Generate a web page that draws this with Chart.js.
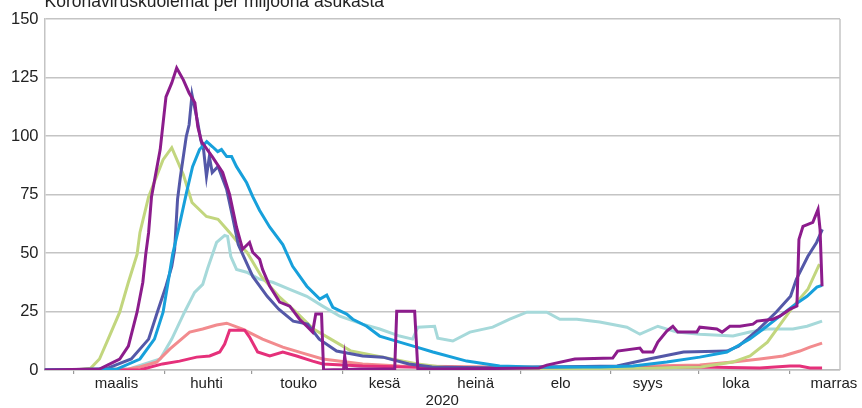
<!DOCTYPE html>
<html>
<head>
<meta charset="utf-8">
<script src="https://cdn.jsdelivr.net/npm/chart.js@4.4.1/dist/chart.umd.min.js"></script>
<style>
  html, body { margin: 0; padding: 0; background: #fff; }
  canvas { display: block; }
</style>
</head>
<body>
<canvas id="chart" width="862" height="408"></canvas>
<script>
// x values are day indexes (0 = about 20 Feb 2020), y values are deaths per million
const titleText = 'Koronaviruskuolemat per miljoona asukasta';
const yearText = '2020';
const monthLabels = ['maalis', 'huhti', 'touko', 'kesä', 'heinä', 'elo', 'syys', 'loka', 'marras'];
const monthLabelDays = [24.9, 56, 87.9, 117.6, 149.1, 178.5, 208.6, 239.1, 273];
const monthStartDays = [10.1, 41.4, 71.7, 103, 133.3, 164.6, 195.9, 226.2, 257.5];
const yTicks = [0, 25, 50, 75, 100, 125, 150];

const purpleDays = [0, 19, 26, 29, 32, 34, 35, 36, 37, 40, 42, 44, 45.7, 48, 50, 52, 53, 54.3, 58, 61.6, 64, 66.4, 68.5, 70.9, 72, 74.4, 75.4, 77.9, 81.3, 84.8, 88.2, 90.7, 92.7, 93.8, 95.8, 96.5, 103.4, 103.8, 104.5, 109, 121.1, 121.8, 128, 129.1, 140, 171, 173.7, 183.4, 196.5, 198.2, 205.9, 206.9, 210.4, 212.1, 215.2, 217.3, 219, 225.6, 226.6, 232.5, 234.3, 237, 240.5, 245, 246.4, 251.9, 254.3, 257.8, 260.2, 260.9, 262.3, 265.7, 267.5, 268.2, 268.9];
const purpleVals = [0, 0.4, 4.7, 10.2, 24.7, 37.5, 49.4, 58.8, 74.1, 94.2, 116.7, 122.7, 129.1, 124, 118.4, 114.2, 104, 97.6, 91.2, 84.4, 75, 61, 51.6, 54.5, 50.3, 47.3, 43, 35.8, 29, 27.3, 21.7, 18.7, 16.2, 23.9, 23.9, 0, 0.2, 6, 0.2, 0.4, 0.4, 25.1, 25.1, 0.4, 0.4, 0.9, 2.1, 4.7, 5.1, 8.1, 9.4, 7.7, 7.7, 11.9, 16.6, 18.7, 16.2, 16.2, 18.3, 17.5, 16.2, 18.7, 18.7, 19.6, 20.9, 21.7, 23, 26, 27.3, 55.8, 61.4, 63.1, 68.6, 60.1, 35.8];

const blueDays = [0, 25, 33, 38, 41, 43.3, 44.3, 46.7, 49.1, 51.2, 53.6, 56.1, 58.1, 59.9, 61.2, 63, 64.7, 66.4, 69.9, 72, 74.4, 77.9, 82.4, 85.8, 90.7, 95.2, 97.6, 99.7, 104.5, 106.6, 111.4, 115.9, 122.8, 128.7, 134.3, 146, 157.4, 168.9, 192, 203.5, 215.2, 226.6, 236, 243.9, 249.8, 254.3, 258.8, 263.7, 267.1, 268.9];
const blueVals = [0, 0.4, 4.7, 13.2, 24.7, 41.8, 49.4, 62.2, 75.8, 86.9, 94.2, 97.6, 95.4, 93.3, 94.2, 91.2, 91.2, 86.9, 80, 74.1, 68.2, 61, 53.6, 44.3, 35.8, 30.3, 32, 26.8, 23.9, 21.7, 18.7, 14.5, 11.9, 9.8, 7.7, 3.8, 1.7, 1.3, 1.3, 1.7, 3.4, 5.5, 7.7, 13.2, 18.7, 23, 27.3, 31.5, 35.4, 36.2];

const darkBlueDays = [0, 21, 30, 36, 39, 42, 44, 45, 46, 47, 49, 50, 51, 53, 54, 55, 56, 57, 58, 60, 63, 65, 67, 72, 77, 81, 86, 91, 95, 101, 110, 117, 126, 134, 157, 175, 198, 209, 221, 236, 240, 247, 253, 258, 260, 264, 267, 269];
const darkBlueVals = [0, 0.4, 4.7, 13.2, 24.7, 35.8, 44.3, 51.6, 72.9, 82.7, 99.7, 104.8, 117.6, 105.7, 98.4, 94.2, 82.7, 91.2, 84.4, 87, 77.1, 65.6, 53.6, 40, 31.5, 26, 20.9, 19.6, 13.2, 8.1, 6, 5.5, 2.6, 1.3, 0.9, 1.3, 1.7, 4.7, 7.7, 8.1, 10.2, 17.5, 24.7, 31.5, 38.8, 48.6, 54.5, 60.1];

const greenDays = [0, 12, 16, 19, 22, 26, 29, 32, 33, 36, 41, 44, 48, 51, 56, 60, 64, 68, 70, 75, 81, 87, 93, 99, 106, 117, 129, 140, 175, 209, 227, 238, 244, 250, 255, 259, 264, 268];
const greenVals = [0, 0.2, 0.8, 4.7, 13.2, 24.7, 37.5, 49.4, 58.8, 74.1, 89.9, 95, 83.5, 71.6, 65.6, 64.4, 58.8, 52.8, 50.3, 40, 31.5, 24.7, 17.5, 13.2, 8.1, 5.5, 2.6, 0.9, 0.4, 0.9, 1.3, 3.4, 6, 11.9, 20.5, 27.3, 34.5, 45.2];

const pinkDays = [0, 32.9, 40.8, 46.7, 52.6, 57.1, 60.6, 62.3, 64, 69.2, 70.9, 73.7, 77.9, 82.4, 87.2, 92.7, 96.2, 110, 140, 192, 226.6, 247.4, 257.8, 261.2, 264.7, 268.9];
const pinkVals = [0, 0, 2.6, 3.8, 5.5, 6, 7.7, 11.1, 17, 17, 14.1, 7.7, 6, 7.7, 6, 3.8, 2.6, 1.7, 0.9, 0.9, 1.3, 0.9, 1.7, 1.7, 0.9, 0.9];

const salmonDays = [0, 29, 33, 38.8, 43.3, 50.2, 54.7, 59.5, 63, 68.5, 75.4, 82.4, 89.3, 96.2, 110, 122.8, 157.4, 192, 226.6, 238.1, 247.4, 255.4, 261.2, 264.7, 268.9];
const salmonVals = [0, 0.4, 1.3, 3.4, 8.9, 16.2, 17.5, 19.2, 20, 17.5, 13.2, 9.8, 7.2, 4.7, 2.6, 1.7, 1.3, 1.3, 2.1, 3.4, 4.7, 6, 8.1, 9.8, 11.5];

const cyanDays = [0, 29, 40, 44, 48.4, 51.9, 54.7, 56.4, 59.5, 62.3, 63.3, 64.4, 66.4, 69.9, 74.4, 78.9, 84.8, 90.7, 96.2, 102.1, 110, 115.9, 122.8, 127.3, 129.1, 134.9, 136, 141.2, 147.1, 155, 160.9, 166.8, 173.7, 178.2, 184.1, 192, 201.4, 205.9, 212.1, 218.7, 226.6, 238.1, 243.9, 249.8, 258.8, 263.7, 268.9];
const cyanVals = [0, 0.4, 4.7, 13.2, 24.7, 33.2, 36.6, 43.4, 54.5, 57.5, 57.1, 48.6, 43, 41.8, 38.8, 37.5, 34.5, 31.5, 27.3, 23, 19.6, 17.5, 14.5, 13.2, 18.3, 18.7, 13.6, 12.4, 16.2, 18.3, 21.7, 24.7, 24.7, 21.7, 21.7, 20.5, 18.3, 15.3, 18.7, 16.2, 15.3, 14.5, 16.2, 17.5, 17.5, 18.7, 20.9];

function toPoints(days, vals) {
    return days.map((d, i) => ({ x: d, y: vals[i] }));
}

function makeSeries(days, vals, color) {
    return {
        data: toPoints(days, vals),
        borderColor: color,
        borderWidth: 3,
        pointRadius: 0,
        tension: 0,
        fill: false,
    };
}

// first dataset is drawn on top
const dataSets = [
    makeSeries(purpleDays, purpleVals, '#8c1c8c'),
    makeSeries(blueDays, blueVals, '#17a0db'),
    makeSeries(darkBlueDays, darkBlueVals, '#5458a8'),
    makeSeries(greenDays, greenVals, '#c2d67e'),
    makeSeries(pinkDays, pinkVals, '#e5307a'),
    makeSeries(salmonDays, salmonVals, '#f28b8e'),
    makeSeries(cyanDays, cyanVals, '#a6d9da'),
];

const fontFamily = "'Liberation Sans', Arial, sans-serif";

// title is partly cut off at the top of the picture, so it is drawn by hand
const titlePlugin = {
    id: 'cutTitle',
    afterDraw(chart) {
        const ctx = chart.ctx;
        ctx.save();
        ctx.fillStyle = '#222';
        ctx.font = '17.5px ' + fontFamily;
        ctx.textBaseline = 'alphabetic';
        ctx.fillText(titleText, chart.chartArea.left, 7);
        ctx.restore();
    }
};

const framePlugin = {
    id: 'frame',
    beforeDatasetsDraw(chart) {
        const { right, top, bottom } = chart.chartArea;
        const ctx = chart.ctx;
        ctx.save();
        ctx.strokeStyle = '#c4c4c4';
        ctx.lineWidth = 1.5;
        ctx.beginPath();
        ctx.moveTo(right, top);
        ctx.lineTo(right, bottom);
        ctx.stroke();
        ctx.restore();
    }
};

new Chart(document.getElementById('chart'), {
    type: 'line',
    data: { datasets: dataSets },
    options: {
        responsive: false,
        animation: false,
        devicePixelRatio: 1,
        layout: { padding: { top: 19, left: 5, right: 22, bottom: 0 } },
        plugins: {
            legend: { display: false },
            tooltip: { enabled: false },
            title: { display: false },
        },
        scales: {
            x: {
                type: 'linear',
                min: 0,
                max: 275.1,
                afterBuildTicks: (axis) => {
                    const all = monthStartDays.concat(monthLabelDays).sort((a, b) => a - b);
                    axis.ticks = all.map(v => ({ value: v }));
                },
                grid: {
                    drawOnChartArea: false,
                    tickLength: 4,
                    lineWidth: 1.2,
                    tickColor: (ctx) => (ctx.tick && monthStartDays.includes(ctx.tick.value)) ? '#9a9a9a' : 'rgba(0,0,0,0)',
                },
                border: { color: '#bdbdbd', width: 1.5 },
                ticks: {
                    autoSkip: false,
                    maxRotation: 0,
                    padding: 2,
                    color: '#222',
                    font: { family: fontFamily, size: 15, lineHeight: 1 },
                    callback: (value) => {
                        const i = monthLabelDays.indexOf(value);
                        return i >= 0 ? monthLabels[i] : '';
                    },
                },
                title: {
                    display: true,
                    text: yearText,
                    color: '#222',
                    padding: 0,
                    font: { family: fontFamily, size: 15, lineHeight: 1 },
                },
            },
            y: {
                min: 0,
                max: 150,
                afterBuildTicks: (axis) => {
                    axis.ticks = yTicks.map(v => ({ value: v }));
                },
                grid: {
                    color: '#c4c4c4',
                    lineWidth: 1.5,
                    drawTicks: false,
                },
                border: { color: '#c4c4c4', width: 1.5 },
                ticks: {
                    padding: 6,
                    color: '#222',
                    font: { family: fontFamily, size: 16.5 },
                },
            },
        },
    },
    plugins: [titlePlugin, framePlugin],
});
</script>
</body>
</html>
